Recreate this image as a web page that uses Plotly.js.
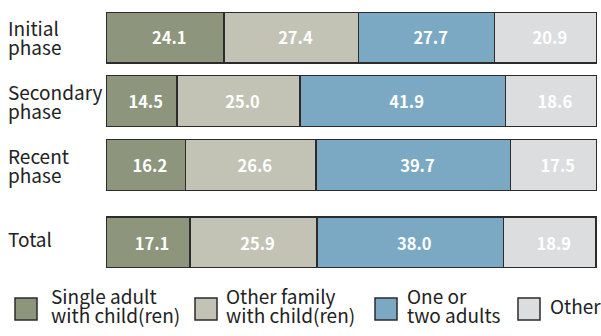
<!DOCTYPE html>
<html>
<head>
<meta charset="utf-8">
<script src="https://cdn.plot.ly/plotly-3.0.1.min.js"></script>
<style>html,body{margin:0;padding:0;background:#fff;}#chart{width:601px;height:336px;}</style>
</head>
<body>
<div id="chart"></div>
<script>
const categories = ['Initial<br>phase', 'Secondary<br>phase', 'Recent<br>phase', 'Total'];
const seriesNames = ['Single adult<br>with child(ren)', 'Other family<br>with child(ren)', 'One or<br>two adults', 'Other'];
const singleAdult = [24.1, 14.5, 16.2, 17.1];
const otherFamily = [27.4, 25.0, 26.6, 25.9];
const oneTwoAdults = [27.7, 41.9, 39.7, 38.0];
const otherHH = [20.9, 18.6, 17.5, 18.9];

const seriesValues = [singleAdult, otherFamily, oneTwoAdults, otherHH];
const colors = ['#8d957d', '#c2c3b5', '#7ba9c3', '#dcdddf'];
const FONT = '"Noto Sans CJK JP", "Noto Sans", sans-serif';

// row positions: extra gap before the Total row
const rowPos = categories.map((c, i) => i < 3 ? i : i + 0.22);

const traces = seriesValues.map((vals, k) => ({
  type: 'bar',
  orientation: 'h',
  name: seriesNames[k],
  x: vals,
  y: rowPos,
  width: 0.8,
  marker: {color: colors[k], line: {color: '#2b2b2b', width: 1.5}},
  texttemplate: '\u2002%{x:.1f}',
  textposition: 'inside',
  insidetextanchor: 'middle',
  constraintext: 'none',
  textfont: {family: FONT, size: 16.5, color: '#ffffff', weight: 'bold'},
  hoverinfo: 'skip'
}));

// pixel helpers for paper coordinates
const W = 601, H = 336, mL = 106, mR = 4, mT = 12, mB = 68;
const pw = W - mL - mR, ph = H - mT - mB;
const px = v => (v - mL) / pw;
const py = v => (H - mB - v) / ph;

const annotations = [];
const shapes = [];
// category labels, left aligned
categories.forEach((c, i) => {
  const lines = c.split('<br>');
  const extra = lines.length === 1 ? 4 : 0;
  lines.forEach((ln, j) => {
    const off = (j - (lines.length - 1) / 2) * 19;
    annotations.push({
      xref: 'paper', yref: 'y', x: px(6), y: rowPos[i], xanchor: 'left', yanchor: 'middle',
      yshift: -off + extra, text: ln, showarrow: false, align: 'left',
      font: {family: FONT, size: 19, color: '#222'}
    });
  });
});

// legend
const legSq = [15, 195, 375, 518];
const legTx = [49, 224, 405, 548];
seriesNames.forEach((n, k) => {
  shapes.push({type: 'rect', xref: 'paper', yref: 'paper',
    x0: px(legSq[k]), x1: px(legSq[k] + 22), y0: py(320), y1: py(298),
    fillcolor: colors[k], line: {color: '#2b2b2b', width: 1.5}});
  const lines = n.split('<br>');
  lines.forEach((ln, j) => {
    const off = (j - (lines.length - 1) / 2) * 18.5;
    annotations.push({
      xref: 'paper', yref: 'paper', x: px(legTx[k]), y: py(305), xanchor: 'left', yanchor: 'middle',
      yshift: -off, text: ln, showarrow: false, align: 'left',
      font: {family: FONT, size: 19, color: '#222'}
    });
  });
});

const layout = {
  width: W, height: H,
  margin: {l: mL, r: mR, t: mT, b: mB},
  barmode: 'stack',
  showlegend: false,
  paper_bgcolor: '#ffffff', plot_bgcolor: '#ffffff',
  xaxis: {range: [0, 100.1], visible: false, fixedrange: true},
  yaxis: {range: [3.62, -0.4], visible: false, fixedrange: true},
  annotations: annotations,
  shapes: shapes,
  font: {family: FONT}
};

Plotly.newPlot('chart', traces, layout, {displayModeBar: false, staticPlot: true});
</script>
</body>
</html>
